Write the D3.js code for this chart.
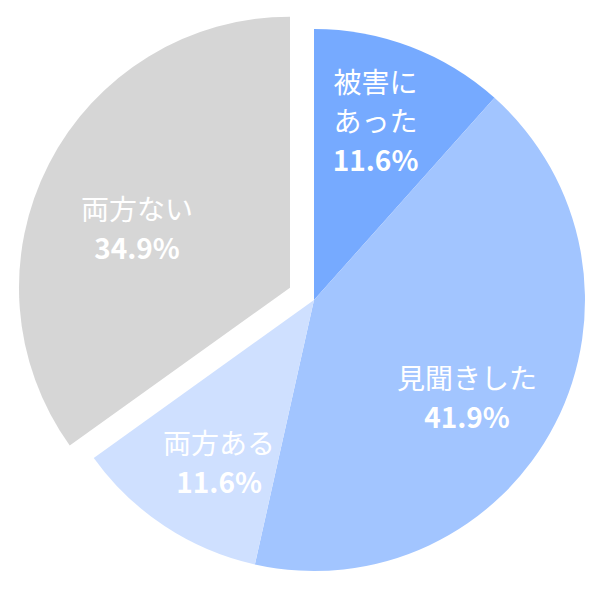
<!DOCTYPE html>
<html><head><meta charset="utf-8">
<script src="https://cdn.jsdelivr.net/npm/d3@7"></script>
<style>body{margin:0;background:#fff}</style>
</head><body>
<svg id="chart" width="612" height="598"></svg>
<script>
const labels = [["被害に", "あった"], ["見聞きした"], ["両方ある"], ["両方ない"]];
const values = [11.6, 41.9, 11.6, 34.9];
const colors = ['#76aaff', '#a2c5ff', '#cfe0ff', '#d6d6d6'];
const exploded = [false, false, false, true];

const svg = d3.select('#chart');
const cx = 314, cy = 300, r = 271, offset = 27;

const pie = d3.pie().sort(null).value(d => d)(values);
const arc = d3.arc().innerRadius(0).outerRadius(r);
// narrow top slice needs its label pushed further out
const labelRadius = i => i === 0 ? 212 : 172;

const g = svg.append('g').attr('transform', `translate(${cx},${cy})`);

const slices = g.selectAll('g.slice')
  .data(pie)
  .join('g')
  .attr('class', 'slice')
  .attr('transform', (d, i) => {
    if (!exploded[i]) return null;
    const mid = (d.startAngle + d.endAngle) / 2;
    return `translate(${Math.sin(mid) * offset},${-Math.cos(mid) * offset})`;
  });

slices.append('path')
  .attr('d', arc)
  .attr('fill', (d, i) => colors[i]);

slices.each(function(d, i) {
  const lr = labelRadius(i);
  const [x, y] = d3.arc().innerRadius(lr).outerRadius(lr).centroid(d);
  const lines = labels[i].concat([values[i].toFixed(1) + '%']);
  const lh = 39;
  const t = d3.select(this).append('text')
    .attr('text-anchor', 'middle')
    .attr('fill', '#fff')
    .attr('font-family', '"Noto Sans CJK JP", "Noto Sans", sans-serif')
    .attr('font-size', 28);
  lines.forEach((s, k) => {
    t.append('tspan')
      .attr('x', x - (i === 0 ? 14 : 0))
      .attr('y', y + (k - (lines.length - 1) / 2) * lh + 30)
      .attr('font-weight', k === lines.length - 1 ? 700 : 400)
      .text(s);
  });
});
</script>
</body></html>
